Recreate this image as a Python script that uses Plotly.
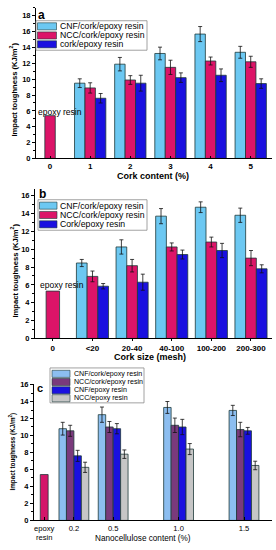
import plotly.graph_objects as go

# ---------------- data ----------------
# Panel a: impact toughness vs cork content
cork_content = [1, 2, 3, 4, 5]
a_tick_labels = ["0", "1", "2", "3", "4", "5"]
a_names = ["CNF/cork/epoxy resin", "NCC/cork/epoxy resin", "cork/epoxy resin"]
a_cnf = [9.5, 11.9, 13.25, 15.7, 13.4]
a_cnf_err = [0.55, 0.85, 0.8, 0.95, 0.75]
a_ncc = [8.9, 9.9, 11.5, 12.3, 12.2]
a_ncc_err = [0.65, 0.55, 0.9, 0.5, 0.7]
a_cork = [7.6, 9.5, 10.2, 10.5, 9.45]
a_cork_err = [0.6, 1.0, 0.6, 0.8, 0.6]
a_epoxy = 5.4

# Panel b: impact toughness vs cork size
b_categories = ["0", "<20", "20-40", "40-100", "100-200", "200-300"]
b_names = ["CNF/cork/epoxy resin", "NCC/cork/epoxy resin", "Cork/epoxy resin"]
b_cnf = [8.45, 10.25, 13.7, 14.7, 13.8]
b_cnf_err = [0.4, 0.8, 0.85, 0.6, 0.8]
b_ncc = [6.95, 8.15, 10.25, 10.8, 9.0]
b_ncc_err = [0.6, 0.7, 0.45, 0.55, 0.85]
b_cork = [5.85, 6.3, 9.4, 9.85, 7.8]
b_cork_err = [0.3, 0.9, 0.5, 0.8, 0.45]
b_epoxy = 5.3

# Panel c: impact toughness vs nanocellulose content
nano_content = [0.2, 0.5, 1.0, 1.5]
c_tick_labels = ["epoxy<br>resin", "0.2", "0.5", "1.0", "1.5"]
c_names = ["CNF/cork/epoxy resin", "NCC/cork/epoxy resin", "CNF/epoxy resin", "NCC/epoxy resin"]
c_cnf_cork = [10.8, 12.45, 13.3, 12.95]
c_cnf_cork_err = [0.75, 0.9, 0.7, 0.6]
c_ncc_cork = [10.55, 11.0, 11.2, 10.7]
c_ncc_cork_err = [0.65, 0.65, 0.85, 0.85]
c_cnf_epoxy = [7.6, 10.8, 11.0, 10.55]
c_cnf_epoxy_err = [0.65, 0.6, 0.9, 0.4]
c_ncc_epoxy = [6.25, 7.8, 8.4, 6.47]
c_ncc_epoxy_err = [0.6, 0.5, 0.65, 0.5]
c_epoxy = 5.4

# ---------------- styles ----------------
W, H = 276, 550
FONT = "Liberation Sans, Arial, sans-serif"
CNF_C = "#6CC8F2"
NCC_C = "#DC1468"
CORK_C = "#1A10E0"
C_CNF_CORK = "#8CBEF0"
C_NCC_CORK = "#7A3A7C"
C_CNF_EP = "#1A10E0"
C_NCC_EP = "#C6C6C6"
EPOXY_C = "#D4166A"
OUTLINE = "#1E3A3A"


def px(x):
    return x / W


def py(y):
    return 1 - y / H


fig = go.Figure()


def add_bar(x, y, err, color, width, offset, xa, ya):
    fig.add_trace(go.Bar(
        x=x, y=y, width=width, offset=offset,
        marker=dict(color=color, line=dict(color=OUTLINE, width=0.8)),
        error_y=dict(type="data", array=err, visible=err is not None,
                     color="#111", thickness=0.8, width=2),
        xaxis=xa, yaxis=ya, showlegend=False, hoverinfo="skip"))


# panel a
wa = 0.26
add_bar([0], [a_epoxy], None, NCC_C, wa, -wa / 2, "x", "y")
add_bar(cork_content, a_cnf, a_cnf_err, CNF_C, wa, -1.5 * wa, "x", "y")
add_bar(cork_content, a_ncc, a_ncc_err, NCC_C, wa, -0.5 * wa, "x", "y")
add_bar(cork_content, a_cork, a_cork_err, CORK_C, wa, 0.5 * wa, "x", "y")

# panel b
wb = 0.27
b_x = list(range(1, len(b_categories)))
add_bar([0], [b_epoxy], None, NCC_C, 0.34, -0.17, "x2", "y2")
add_bar(b_x, b_cnf, b_cnf_err, CNF_C, wb, -1.5 * wb, "x2", "y2")
add_bar(b_x, b_ncc, b_ncc_err, NCC_C, wb, -0.5 * wb, "x2", "y2")
add_bar(b_x, b_cork, b_cork_err, CORK_C, wb, 0.5 * wb, "x2", "y2")

# panel c
wc = 0.057
EPOXY_POS = -0.027
add_bar([EPOXY_POS], [c_epoxy], None, EPOXY_C, 0.06, -0.03, "x3", "y3")
add_bar(nano_content, c_cnf_cork, c_cnf_cork_err, C_CNF_CORK, wc, -2 * wc, "x3", "y3")
add_bar(nano_content, c_ncc_cork, c_ncc_cork_err, C_NCC_CORK, wc, -1 * wc, "x3", "y3")
add_bar(nano_content, c_cnf_epoxy, c_cnf_epoxy_err, C_CNF_EP, wc, 0, "x3", "y3")
add_bar(nano_content, c_ncc_epoxy, c_ncc_epoxy_err, C_NCC_EP, wc, wc, "x3", "y3")

# ---------------- axes ----------------
def yax(domain, rng, anchor):
    return dict(domain=domain, range=rng, anchor=anchor, showline=True, linecolor="black",
                linewidth=1, ticks="outside", ticklen=3, tickcolor="black", tickwidth=1,
                dtick=2, tick0=0, showgrid=False, zeroline=False,
                tickfont=dict(family=FONT, size=7.5, color="black", weight="bold"),
                minor=dict(dtick=1, ticks="outside", ticklen=2, tickcolor="black"),
                fixedrange=True)


def xax(domain, rng, tickvals, ticktext, anchor, bold=True, size=8, ticks="outside", ticklen=2):
    return dict(domain=domain, range=rng, anchor=anchor, showline=True, linecolor="black",
                linewidth=1, ticks=ticks, ticklen=ticklen, tickcolor="black",
                tickmode="array", tickvals=tickvals, ticktext=ticktext,
                showgrid=False, zeroline=False,
                tickfont=dict(family=FONT, size=size, color="black",
                              weight="bold" if bold else "normal"),
                fixedrange=True)


fig.update_layout(
    width=W, height=H, margin=dict(l=0, r=0, t=0, b=0),
    paper_bgcolor="white", plot_bgcolor="white", barmode="overlay",
    font=dict(family=FONT, color="black"),
    xaxis=xax([px(36), px(272)], [-0.35, 5.53], list(range(len(a_tick_labels))),
              a_tick_labels, "y", ticks="inside", ticklen=2),
    yaxis=yax([py(157), py(4)], [0, 19], "x"),
    xaxis2=xax([px(35), px(272)], [-0.45, 5.53], list(range(len(b_categories))),
               b_categories, "y2", ticks="outside", ticklen=2),
    yaxis2=yax([py(340), py(188)], [0, 16.75], "x2"),
    xaxis3=xax([px(34), px(272)], [-0.105, 1.714], [EPOXY_POS] + nano_content,
               c_tick_labels, "y3", bold=False, size=7.6, ticks="inside", ticklen=3),
    yaxis3=yax([py(525), py(386)], [0, 16.1], "x3"),
)

annotations = []
shapes = []


def text(x, y, s, size, bold=False, angle=0, xanchor="center"):
    annotations.append(dict(x=px(x), y=py(y), xref="paper", yref="paper", text=s,
                            showarrow=False, xanchor=xanchor, yanchor="middle",
                            textangle=angle, borderpad=0,
                            font=dict(family=FONT, size=size, color="black",
                                      weight="bold" if bold else "normal")))


def legend(x0, y0, x1, y1, rows, names, colors, sw0, sw1, tx, fsize):
    shapes.append(dict(type="rect", xref="paper", yref="paper", x0=px(x0), x1=px(x1),
                       y0=py(y1), y1=py(y0), line=dict(color="#8A8A8A", width=0.8),
                       fillcolor="white", layer="above"))
    for r, n, c in zip(rows, names, colors):
        shapes.append(dict(type="rect", xref="paper", yref="paper", x0=px(sw0), x1=px(sw1),
                           y0=py(r + 3.6), y1=py(r - 3.6), line=dict(color=OUTLINE, width=0.6),
                           fillcolor=c, layer="above"))
        text(tx, r, n, fsize, xanchor="left")


# panel titles / labels
text(41.5, 11, "a", 12, bold=True)
text(42.5, 193, "b", 12, bold=True)
text(40, 390, "c", 11, bold=True)

text(13, 87, "Impact toughness (KJ/m<sup>2</sup>)", 7.6, bold=True, angle=-90)
text(14, 271, "Impact toughness (KJ/m<sup>2</sup>)", 7.6, bold=True, angle=-90)
text(13, 455, "Impact toughness (KJ/m<sup>2</sup>)", 6.3, bold=True, angle=-90)

text(153, 175, "Cork content (%)", 9, bold=True)
text(150, 359, "Cork size (mesh)", 9, bold=True)
text(143, 543.5, "Nanocellulose content (%)", 8.2)

text(37, 109.5, "epoxy resin", 8.5, xanchor="left")
text(38.5, 286, "epoxy resin", 8.5, xanchor="left")

legend(36, 17, 147, 47, [22.7, 32, 41], a_names, [CNF_C, NCC_C, CORK_C],
       37.5, 56.5, 58.5, 8.7)
legend(38, 199, 147, 230, [205, 214.5, 224], b_names, [CNF_C, NCC_C, CORK_C],
       39.5, 57, 58.5, 8.7)
legend(50, 370, 144, 405.5, [376, 384.3, 392.7, 400.8], c_names,
       [C_CNF_CORK, C_NCC_CORK, C_CNF_EP, C_NCC_EP], 52, 70, 72.5, 7.1)

fig.update_layout(annotations=annotations, shapes=shapes)

fig.write_html("out.html", config={"displayModeBar": False},
               post_script="document.body.style.margin='0px';"
                           "document.body.style.overflow='hidden';")
